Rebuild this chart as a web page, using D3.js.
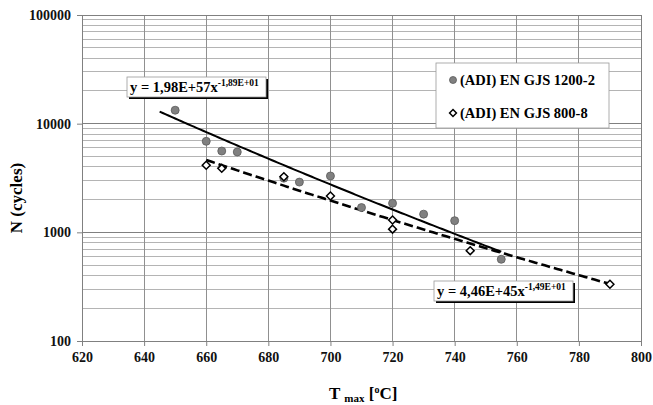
<!DOCTYPE html>
<html><head><meta charset="utf-8">
<script src="https://cdn.jsdelivr.net/npm/d3@7"></script>
<style>
html,body{margin:0;padding:0;background:#fff;}
text{font-family:"Liberation Serif","Times New Roman",serif;font-weight:bold;}
</style></head>
<body><svg id="c" width="653" height="405"></svg>
<script>
// ---- data ----
const seriesNames = ["(ADI) EN GJS 1200-2", "(ADI) EN GJS 800-8"];
const tempA = [650, 660, 665, 670, 685, 690, 700, 710, 720, 730, 740, 755];
const cyclesA = [13300, 6880, 5600, 5490, 3150, 2900, 3300, 1690, 1850, 1470, 1280, 565];
const tempB = [660, 665, 685, 700, 720, 720, 745, 790];
const cyclesB = [4140, 3880, 3250, 2160, 1300, 1070, 678, 333];
// power trend lines, end points
const trendTempA = [645, 755];
const trendCyclesA = [12900, 663];
const trendTempB = [660, 790];
const trendCyclesB = [4630, 335];
const equations = ["y = 1,98E+57x", "y = 4,46E+45x"];
const eqExponents = ["-1,89E+01", "-1,49E+01"];
const xTicks = [620, 640, 660, 680, 700, 720, 740, 760, 780, 800];
const yTicks = [100, 1000, 10000, 100000];

const svg = d3.select("#c");
const L = 82, R = 641, T = 15, B = 341;
const x = d3.scaleLinear().domain([620, 800]).range([L, R]);
const y = d3.scaleLog().domain([100, 100000]).range([B, T]);

// minor grid
const minor = [];
for (let d = 100; d < 100000; d *= 10) for (let k = 2; k <= 9; k++) minor.push(d * k);
svg.append("g").selectAll("line").data(minor).join("line")
  .attr("x1", L).attr("x2", R).attr("y1", d => y(d)).attr("y2", d => y(d))
  .attr("stroke", "#b4b4b4").attr("stroke-width", 1).attr("shape-rendering","crispEdges");
// major grid
svg.append("g").selectAll("line").data(yTicks).join("line")
  .attr("x1", L).attr("x2", R).attr("y1", d => y(d)).attr("y2", d => y(d))
  .attr("stroke", "#808080").attr("stroke-width", 1).attr("shape-rendering","crispEdges");
svg.append("g").selectAll("line").data(xTicks).join("line")
  .attr("x1", d => x(d)).attr("x2", d => x(d)).attr("y1", T).attr("y2", B)
  .attr("stroke", "#909090").attr("stroke-width", 1).attr("shape-rendering","crispEdges");
// frame
svg.append("rect").attr("x", L).attr("y", T).attr("width", R - L).attr("height", B - T)
  .attr("fill", "none").attr("stroke", "#808080").attr("shape-rendering","crispEdges");

// axes
const xa = svg.append("g").attr("transform", `translate(0,${B})`)
  .call(d3.axisBottom(x).tickValues(xTicks).tickSize(5).tickPadding(6).tickFormat(d3.format("d")));
const ya = svg.append("g").attr("transform", `translate(${L},0)`)
  .call(d3.axisLeft(y).tickValues(yTicks).tickSize(5).tickPadding(6).tickFormat(d3.format("d")));
[xa, ya].forEach(a => {
  a.select(".domain").attr("stroke", "#808080");
  a.selectAll(".tick line").attr("stroke", "#808080");
  a.selectAll("text").attr("font-size", 14).attr("fill", "#111")
    .style("font-family", '"Liberation Serif",serif').style("font-weight", "bold");
});

// power trend lines through the two read-off end points (straight in log-log space)
function powerThrough(ts, ns) {
  const b = Math.log(ns[1] / ns[0]) / Math.log(ts[1] / ts[0]);
  return t => ns[0] * Math.pow(t / ts[0], b);
}
const fA = powerThrough(trendTempA, trendCyclesA), fB = powerThrough(trendTempB, trendCyclesB);
const line = d3.line().x(d => x(d[0])).y(d => y(d[1]));
function trendPts(f, r) { return d3.range(r[0], r[1] + 0.01, 1).map(t => [t, f(t)]); }
svg.append("path").attr("d", line(trendPts(fA, trendTempA)))
  .attr("fill", "none").attr("stroke", "#000").attr("stroke-width", 2);
svg.append("path").attr("d", line(trendPts(fB, trendTempB)))
  .attr("fill", "none").attr("stroke", "#000").attr("stroke-width", 2.6).attr("stroke-dasharray", "9,4");

// markers
const diamond = d3.symbol().type(d3.symbolDiamond2).size(40);
svg.append("g").selectAll("circle").data(tempA.map((t, i) => [t, cyclesA[i]])).join("circle")
  .attr("cx", d => x(d[0])).attr("cy", d => y(d[1])).attr("r", 4)
  .attr("fill", "#808080").attr("stroke", "#5a5a5a").attr("stroke-width", 0.8);
svg.append("g").selectAll("path").data(tempB.map((t, i) => [t, cyclesB[i]])).join("path")
  .attr("d", diamond).attr("transform", d => `translate(${x(d[0])},${y(d[1])})`)
  .attr("fill", "#fff").attr("stroke", "#000").attr("stroke-width", 1.5);

// equation boxes
function eqBox(bx, by, w, h, main, sup) {
  const g = svg.append("g");
  g.append("rect").attr("x", bx + 2).attr("y", by + 2).attr("width", w).attr("height", h).attr("fill", "#000");
  g.append("rect").attr("x", bx).attr("y", by).attr("width", w).attr("height", h)
    .attr("fill", "#fff").attr("stroke", "#999").attr("stroke-width", 0.8);
  const t = g.append("text").attr("x", bx + 3).attr("y", by + h - 5).attr("font-size", 14.5).attr("fill", "#000");
  t.append("tspan").text(main);
  t.append("tspan").attr("dy", -6).attr("font-size", 9.5).text(sup);
}
eqBox(127, 77, 139, 20, equations[0], eqExponents[0]);
eqBox(434, 281, 139, 20, equations[1], eqExponents[1]);

// legend
const lg = svg.append("g");
lg.append("rect").attr("x", 436).attr("y", 63).attr("width", 173).attr("height", 65)
  .attr("fill", "#fff").attr("stroke", "#999").attr("stroke-width", 0.8);
lg.append("circle").attr("cx", 453).attr("cy", 80).attr("r", 3.5)
  .attr("fill", "#808080").attr("stroke", "#5a5a5a").attr("stroke-width", 0.8);
lg.append("path").attr("d", d3.symbol().type(d3.symbolDiamond2).size(30))
  .attr("transform", "translate(453,113)").attr("fill", "#fff").attr("stroke", "#000").attr("stroke-width", 1.5);
lg.selectAll("text").data(seriesNames).join("text")
  .attr("x", 460).attr("y", (d, i) => 85 + i * 33).attr("font-size", 14.5).attr("fill", "#000").text(d => d);

// axis titles
svg.append("text").attr("transform", "translate(22,198) rotate(-90)").attr("text-anchor", "middle")
  .attr("font-size", 17).attr("fill", "#000").text("N (cycles)");
const xt = svg.append("text").attr("x", 329).attr("y", 399).attr("font-size", 17).attr("fill", "#000");
xt.append("tspan").text("T ");
xt.append("tspan").attr("font-size", 11).attr("dy", 3).text("max");
xt.append("tspan").attr("dy", -3).text(" [");
xt.append("tspan").attr("font-size", 10).attr("dy", -6).text("o");
xt.append("tspan").attr("dy", 6).text("C]");
</script></body></html>
